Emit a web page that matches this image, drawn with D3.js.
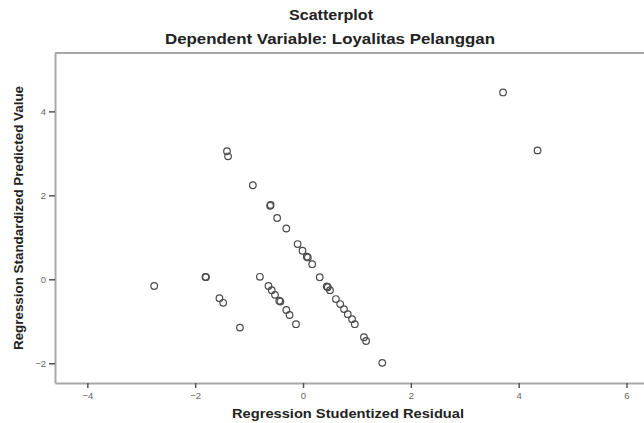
<!DOCTYPE html>
<html>
<head>
<meta charset="utf-8">
<script src="https://cdn.jsdelivr.net/npm/d3@7"></script>
<style>
    body { margin: 0; background: #fff; }
    text { font-family: "Liberation Sans", Arial, sans-serif; }
</style>
</head>
<body>
<div id="scatterplot"></div>
<script>
// Regression studentized residual (x) and standardized predicted value (y)
const residual = [
    3.71, 4.35, -1.41, -1.39, -0.93, -0.61, -0.60, -0.48, -0.31, -0.10,
    -0.01, 0.07, 0.09, 0.17, 0.31, 0.44, 0.46, 0.50, 0.61, 0.69,
    0.76, 0.83, 0.91, 0.96, 1.13, 1.17, 1.47,
    -2.76, -1.80, -1.81, -1.55, -1.48, -1.17,
    -0.80, -0.64, -0.58, -0.52, -0.44, -0.42, -0.31, -0.25, -0.13
];
const predicted = [
    4.45, 3.07, 3.05, 2.93, 2.24, 1.75, 1.77, 1.46, 1.21, 0.84,
    0.68, 0.54, 0.52, 0.36, 0.05, -0.17, -0.19, -0.26, -0.47, -0.59,
    -0.71, -0.83, -0.95, -1.07, -1.38, -1.47, -1.99,
    -0.16, 0.05, 0.06, -0.45, -0.56, -1.15,
    0.06, -0.16, -0.26, -0.37, -0.51, -0.53, -0.73, -0.85, -1.07
];
const xTicks = [-4, -2, 0, 2, 4, 6];
const yTicks = [-2, 0, 2, 4];

const title = 'Scatterplot';
const subtitle = 'Dependent Variable: Loyalitas Pelanggan';
const xTitle = 'Regression Studentized Residual';
const yTitle = 'Regression Standardized Predicted Value';

const totalWidth = 644
const totalHeight = 423

const topMargin = 53
const leftMargin = 55
const plotHeight = 330
const plotWidth = 592

const points = residual.map((r, i) => ({ x: r, y: predicted[i] }));

const root = d3.select('#scatterplot')
    .append('svg')
    .attr('width', totalWidth)
    .attr('height', totalHeight);

// Titles (the source picture is a little stretched sideways, so widths are fixed)
root.append('text')
    .attr('x', 331)
    .attr('y', 20)
    .attr('text-anchor', 'middle')
    .attr('textLength', 84)
    .attr('lengthAdjust', 'spacingAndGlyphs')
    .style('font-size', '14px')
    .style('font-weight', 'bold')
    .style('fill', '#222')
    .text(title);

root.append('text')
    .attr('x', 330)
    .attr('y', 44)
    .attr('text-anchor', 'middle')
    .attr('textLength', 330)
    .attr('lengthAdjust', 'spacingAndGlyphs')
    .style('font-size', '14px')
    .style('font-weight', 'bold')
    .style('fill', '#222')
    .text(subtitle);

const svg = root.append('g')
    .attr('transform', `translate(${leftMargin},${topMargin})`);

const xScale = d3.scaleLinear()
    .domain([-4.6, 6.38])
    .range([0, plotWidth]);

const yScale = d3.scaleLinear()
    .domain([-2.47, 5.39])
    .range([plotHeight, 0]);

// Frame top line
svg.append('line')
    .attr('x1', 0)
    .attr('x2', plotWidth)
    .attr('y1', 0)
    .attr('y2', 0)
    .style('stroke', '#a8a8a8')
    .style('stroke-width', 2);

// Bottom axis
const xAxis = svg.append('g')
    .attr('transform', `translate(0, ${plotHeight})`)
    .call(d3.axisBottom(xScale).tickValues(xTicks).tickSize(5).tickSizeOuter(0).tickPadding(4));

// Left axis
const yAxis = svg.append('g')
    .call(d3.axisLeft(yScale).tickValues(yTicks).tickSize(6).tickSizeOuter(0).tickPadding(3));

[xAxis, yAxis].forEach(ax => {
    ax.select('.domain').style('stroke', '#a8a8a8').style('stroke-width', 2);
    ax.selectAll('.tick line').style('stroke', '#555').style('stroke-width', 1.5);
    ax.selectAll('.tick text')
        .style('font-size', '9.5px')
        .style('fill', '#666')
        .style('font-family', '"Liberation Sans", Arial, sans-serif');
});

svg.selectAll('circle')
    .data(points)
    .enter()
    .append('circle')
    .attr('cx', d => xScale(d.x))
    .attr('cy', d => yScale(d.y))
    .attr('r', 3.3)
    .style('fill', 'none')
    .style('stroke', '#4a4a4a')
    .style('stroke-width', 1.2);

svg.append('text')
    .style('text-anchor', 'middle')
    .attr('x', 348 - leftMargin)
    .attr('y', plotHeight + 35)
    .attr('textLength', 232)
    .attr('lengthAdjust', 'spacingAndGlyphs')
    .style('font-size', '13px')
    .style('font-weight', 'bold')
    .style('fill', '#222')
    .text(xTitle);

svg.append('text')
    .style('text-anchor', 'middle')
    .attr('transform', 'rotate(-90)')
    .attr('x', -plotHeight / 2)
    .attr('y', -leftMargin + 23)
    .attr('textLength', 264)
    .attr('lengthAdjust', 'spacingAndGlyphs')
    .style('font-size', '12.5px')
    .style('font-weight', 'bold')
    .style('fill', '#222')
    .text(yTitle);
</script>
</body>
</html>
